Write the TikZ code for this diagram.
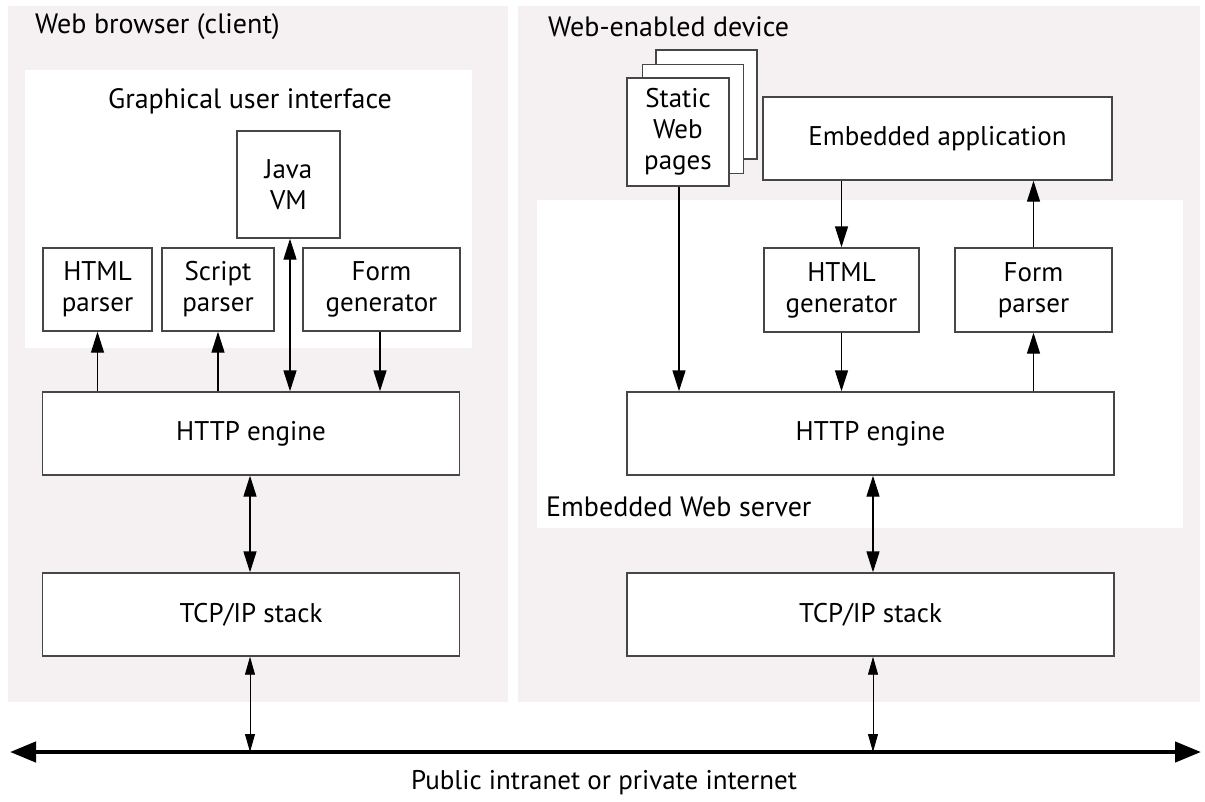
\documentclass[tikz,border=0pt]{standalone}
\usepackage{fontspec}
\setmainfont{PT Sans}
\usetikzlibrary{arrows.meta}
\definecolor{panelgray}{RGB}{245,241,242}
\definecolor{boxline}{RGB}{70,70,70}
\tikzset{
  box/.style={draw=boxline, line width=1.4pt, fill=white, align=center,
    inner sep=0pt, font=\fontsize{27}{31}\selectfont},
  title/.style={anchor=west, inner sep=0pt, font=\fontsize{28}{32}\selectfont},
  link/.style={line width=1.4pt, -{Triangle[length=21pt,width=13pt]}},
  dlink/.style={line width=1.4pt, {Triangle[length=21pt,width=13pt]}-{Triangle[length=21pt,width=13pt]}},
  netlink/.style={line width=0.9pt, {Triangle[length=18pt,width=10pt]}-{Triangle[length=18pt,width=10pt]}},
  bus/.style={line width=4.5pt, {Triangle[length=26pt,width=20pt]}-{Triangle[length=26pt,width=20pt]}}
}
\begin{document}
\begin{tikzpicture}[x=1pt,y=-1pt]
\useasboundingbox (0,0) rectangle (1205,801);

% background panels
\fill[panelgray] (8,6) rectangle (508,702);
\fill[panelgray] (518,6) rectangle (1200,702);
\fill[white] (25,70) rectangle (472,348);
\fill[white] (537,200) rectangle (1183,528);

% panel titles
\node[title] (tclient) at (35,27) {Web browser (client)};
\node[title] (tgui) at (108,101) {Graphical user interface};
\node[title] (tdevice) at (548,27) {Web-enabled device};
\node[title] (tserver) at (546,507) {Embedded Web server};

% client side
\node[box, minimum width=103, minimum height=107] (jvm) at (288.5,184.5) {Java\\VM};
\node[box, minimum width=109, minimum height=83] (htmlp) at (97.5,289.5) {HTML\\parser};
\node[box, minimum width=112, minimum height=83] (scriptp) at (218,289.5) {Script\\parser};
\node[box, minimum width=157, minimum height=83] (formg) at (381.5,289.5) {Form\\generator};
\node[box, minimum width=417, minimum height=83] (httpl) at (251,433.5) {HTTP engine};
\node[box, minimum width=417, minimum height=83] (tcpl) at (251,614.5) {TCP/IP stack};

% device side
\node[box, minimum width=101, minimum height=109] (page3) at (706.5,104.5) {};
\node[box, minimum width=101, minimum height=109] (page2) at (693,119) {};
\node[box, minimum width=102, minimum height=108] (pages) at (678,132) {Static\\Web\\pages};
\node[box, minimum width=349, minimum height=83] (app) at (937.5,138.5) {Embedded application};
\node[box, minimum width=155, minimum height=84] (htmlg) at (841.5,290) {HTML\\generator};
\node[box, minimum width=157, minimum height=84] (formp) at (1033.5,290) {Form\\parser};
\node[box, minimum width=487, minimum height=83] (httpr) at (870.5,433.5) {HTTP engine};
\node[box, minimum width=487, minimum height=83] (tcpr) at (870.5,614.5) {TCP/IP stack};

% network
\coordinate (busw) at (10,752);
\coordinate (buse) at (1201,752);
\coordinate (tapl) at (250,752);
\coordinate (tapr) at (873,752);
\draw[bus] (busw) -- (buse);
\node[inner sep=0pt, font=\fontsize{27}{31}\selectfont] (net) at (604,783) {Public intranet or private internet};

% client connectors
\draw[link] (httpl.north -| htmlp) -- (htmlp.south);
\draw[link] (httpl.north -| scriptp) -- (scriptp.south);
\draw[dlink] (jvm.south -| 290,0) -- (httpl.north -| 290,0);
\draw[link] (formg.south -| 380,0) -- (httpl.north -| 380,0);
\draw[dlink] (httpl.south -| 250,0) -- (tcpl.north -| 250,0);
\draw[netlink] (tcpl.south -| tapl) -- (tapl);

% device connectors
\draw[link] (pages.south -| 679,0) -- (httpr.north -| 679,0);
\draw[link] (app.south -| htmlg) -- (htmlg.north);
\draw[link] (htmlg.south) -- (httpr.north -| htmlg);
\draw[link] (httpr.north -| formp) -- (formp.south);
\draw[link] (formp.north) -- (app.south -| formp);
\draw[dlink] (httpr.south -| tapr) -- (tcpr.north -| tapr);
\draw[netlink] (tcpr.south -| tapr) -- (tapr);
\end{tikzpicture}
\end{document}
